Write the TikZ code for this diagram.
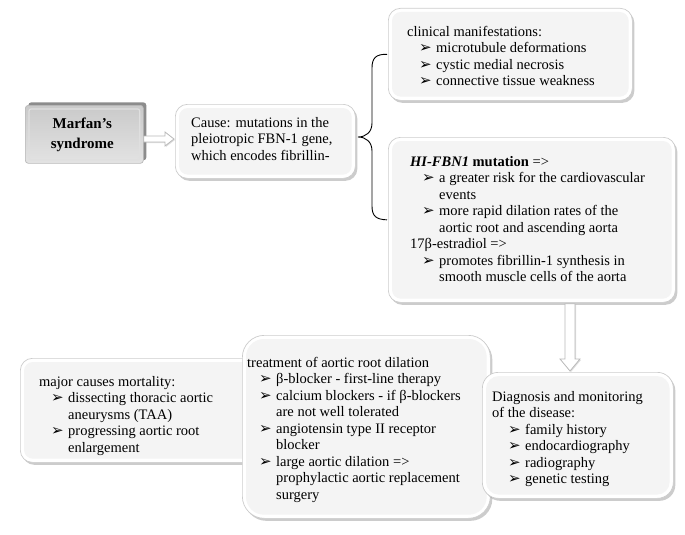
\documentclass[tikz,border=0pt]{standalone}
\usepackage{fontspec}
\setmainfont{Liberation Serif}
\newfontfamily\symf{DejaVu Sans}
\usetikzlibrary{shadows,arrows.meta,calc}
\newcommand\bul{\makebox[17pt][l]{\symf\fontsize{15}{12}\selectfont ➢}}
\newcommand\li[1]{\hspace*{12pt}\bul #1}
\newcommand\lc[1]{\hspace*{29pt}#1}
\newcommand\fstrut{\rule{0pt}{11pt}}
\newcommand\boxfill[1]{\fill[gray!9, rounded corners=9pt] ([shift={(4,4)}]#1.north west) rectangle ([shift={(-4,-4)}]#1.south east);}
\begin{document}
\begin{tikzpicture}[x=1pt,y=-1pt,
  font=\fontsize{14.5}{16.5}\selectfont,
  box/.style={draw=gray!40, line width=0.7pt, rounded corners=12pt, fill=white, anchor=north west, inner sep=0pt,
    drop shadow={shadow xshift=2pt, shadow yshift=-2.5pt, opacity=0.4}},
  txt/.style={anchor=north west, inner sep=0pt, align=left},
  marf/.style={draw=gray!55, line width=0.7pt, rounded corners=3pt, top color=gray!42, bottom color=gray!22, anchor=north west, inner sep=0pt,
    general shadow={shadow xshift=3pt, shadow yshift=3pt, opacity=0.45, fill=black}},
  fatarrow/.style={draw=gray!55, line width=0.8pt, fill=white, line join=miter,
    drop shadow={shadow xshift=1pt, shadow yshift=-1pt, opacity=0.25}},
  bigbrace/.style={draw=black, line width=0.9pt}]
\useasboundingbox (0,0) rectangle (685,535);

% Marfan box
\node[marf, minimum width=118pt, minimum height=58pt] (marfan) at (25,105) {};
\draw[white!75!gray, line width=1.2pt, rounded corners=2pt] ([shift={(4,4)}]marfan.north west) rectangle ([shift={(-4,-4)}]marfan.south east);
\node[font=\bfseries\fontsize{15}{20}\selectfont, align=center, inner sep=0pt] (mtext) at ([xshift=-2pt]marfan.center) {Marfan’s\\syndrome};

% Cause box
\node[box, minimum width=180pt, minimum height=74pt] (cause) at (175,104) {};
\boxfill{cause}
\node[txt] (ctext) at (191,116) {\fstrut Cause: mutations in the\\pleiotropic FBN-1 gene,\\which encodes fibrillin-};

% hollow arrow Marfan -> Cause
\path[fatarrow] let \p1=(marfan.east |- 0,139), \p2=(cause.west |- 0,139) in
  (\x1,\y1+3pt) -- (\x2-10pt,\y1+3pt) -- (\x2-10pt,\y1+7pt) -- (\x2-1pt,\y1) -- (\x2-10pt,\y1-7pt) -- (\x2-10pt,\y1-3pt) -- (\x1,\y1-3pt) -- cycle;

% Clinical box
\node[box, minimum width=244pt, minimum height=92pt] (clin) at (388,8) {};
\boxfill{clin}
\node[txt] (cltext) at (407,25) {\fstrut clinical manifestations:\\ \li{microtubule deformations}\\ \li{cystic medial necrosis}\\ \li{connective tissue weakness}};

% HI-FBN1 box
\node[box, minimum width=287pt, minimum height=165pt] (hi) at (388,137) {};
\boxfill{hi}
\node[txt] (hitext) at (410,155) {\fstrut\textbf{\textit{HI-FBN1}} \textbf{mutation} =>\\ \li{a greater risk for the cardiovascular}\\ \lc{events}\\ \li{more rapid dilation rates of the}\\ \lc{aortic root and ascending aorta}\\ 17β-estradiol =>\\ \li{promotes fibrillin-1 synthesis in}\\ \lc{smooth muscle cells of the aorta}};

% brace
\coordinate (tip) at (358,137);
\draw[bigbrace] ([xshift=-1pt]clin.west) .. controls (376,54) and (372,58) .. (372,68) -- (372,123) .. controls (372,132) and (366,137) .. (tip) .. controls (366,137) and (372,142) .. (372,151) -- (372,206) .. controls (372,216) and (376,219.5) .. ([xshift=-1pt]hi.west);

% Mortality box
\node[box, minimum width=240pt, minimum height=104pt] (mort) at (20,358) {};
\boxfill{mort}
\node[txt] (mtxt) at (39,375) {\fstrut major causes mortality:\\ \li{dissecting thoracic aortic}\\ \lc{aneurysms (TAA)}\\ \li{progressing aortic root}\\ \lc{enlargement}};

% Treatment box
\node[box, minimum width=248pt, minimum height=183pt, rounded corners=22pt] (treat) at (242,335) {};
\fill[gray!9, rounded corners=18pt] ([shift={(4,4)}]treat.north west) rectangle ([shift={(-4,-4)}]treat.south east);
\node[txt] (ttext) at (247,356) {\fstrut treatment of aortic root dilation\\ \li{β-blocker - first-line therapy}\\ \li{calcium blockers - if β-blockers}\\ \lc{are not well tolerated}\\ \li{angiotensin type II receptor}\\ \lc{blocker}\\ \li{large aortic dilation =>}\\ \lc{prophylactic aortic replacement}\\ \lc{surgery}};

% Diagnosis box
\node[box, minimum width=191pt, minimum height=126pt, rounded corners=16pt] (diag) at (482,372) {};
\fill[gray!9, rounded corners=13pt] ([shift={(4,4)}]diag.north west) rectangle ([shift={(-4,-4)}]diag.south east);
\node[txt] (dtext) at (492,390) {\fstrut Diagnosis and monitoring\\of the disease:\\ \hspace*{4pt}\li{family history}\\ \hspace*{4pt}\li{endocardiography}\\ \hspace*{4pt}\li{radiography}\\ \hspace*{4pt}\li{genetic testing}};

% hollow down arrow HI -> Diagnosis
\coordinate (ax) at (570,0);
\path[fatarrow] let \p1=(hi.south -| ax), \p2=(diag.north -| ax) in
  (\x1-5pt,\y1-1pt) -- (\x1-5pt,\y2+13pt) -- (\x1-10pt,\y2+13pt) -- (\x1,\y2+1pt) -- (\x1+10pt,\y2+13pt) -- (\x1+5pt,\y2+13pt) -- (\x1+5pt,\y1-1pt) -- cycle;
\end{tikzpicture}
\end{document}
